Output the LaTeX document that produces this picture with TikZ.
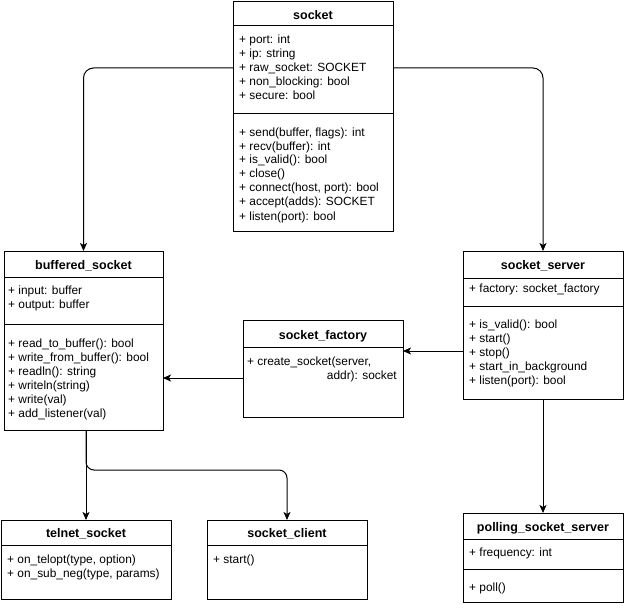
\documentclass[tikz,border=0pt]{standalone}
\usepackage{fontspec}
\setmainfont{Liberation Sans}
\usetikzlibrary{arrows.meta}
\tikzset{
  umlbox/.style={draw=black, line width=1pt, inner sep=0pt, outer sep=0pt, anchor=north west, fill=white},
  sepline/.style={draw=black, line width=1pt},
  ttl/.style={font=\fontsize{12.5}{14}\selectfont\bfseries, anchor=base, inner sep=0pt},
  txt/.style={font=\fontsize{11.9}{14}\selectfont, anchor=base west, inner sep=0pt},
  conn/.style={draw=black, line width=1pt, -{Stealth[length=8pt,width=7pt,inset=2pt]}}
}
\begin{document}
\begin{tikzpicture}[x=1pt,y=-1pt]
\useasboundingbox (0,0) rectangle (625,610);

% ---------- socket ----------
\node[umlbox, minimum width=160pt, minimum height=229pt] (socket) at (233,2) {};
\draw[sepline] (233,26) -- (393,26);
\draw[sepline] (233,114) -- (393,114);
\node[ttl] (socket-t) at (313,19.5) {socket};
\foreach \s [count=\i from 0] in {{+ port: int},{+ ip: string},{+ raw\_socket: SOCKET},{+ non\_blocking: bool},{+ secure: bool}}
  \node[txt] (socket-a\i) at (239,44+14*\i) {\s};
\foreach \s [count=\i from 0] in {{+ send(buffer, flags): int},{+ recv(buffer): int},{+ is\_valid(): bool},{+ close()},{+ connect(host, port): bool},{+ accept(adds): SOCKET},{+ listen(port): bool}}
  \node[txt] (socket-m\i) at (239,136+14*\i) {\s};

% ---------- buffered_socket ----------
\node[umlbox, minimum width=159pt, minimum height=179pt] (buffered) at (4,251) {};
\draw[sepline] (4,277) -- (163,277);
\draw[sepline] (4,324) -- (163,324);
\node[ttl] (buffered-t) at (83.5,269.5) {buffered\_socket};
\foreach \s [count=\i from 0] in {{+ input: buffer},{+ output: buffer}}
  \node[txt] (buffered-a\i) at (8,294+14*\i) {\s};
\foreach \s [count=\i from 0] in {{+ read\_to\_buffer(): bool},{+ write\_from\_buffer(): bool},{+ readln(): string},{+ writeln(string)},{+ write(val)},{+ add\_listener(val)}}
  \node[txt] (buffered-m\i) at (8,347+14*\i) {\s};

% ---------- socket_factory ----------
\node[umlbox, minimum width=160pt, minimum height=97pt] (factory) at (243,320) {};
\draw[sepline] (243,347) -- (403,347);
\node[ttl] (factory-t) at (323,339.5) {socket\_factory};
\node[txt] (factory-m0) at (247,365) {+ create\_socket(server,};
\node[txt, anchor=base east] (factory-m1) at (397,379) {addr): socket};

% ---------- socket_server ----------
\node[umlbox, minimum width=160pt, minimum height=148pt] (server) at (463,251) {};
\draw[sepline] (463,278) -- (623,278);
\draw[sepline] (463,306) -- (623,306);
\node[ttl] (server-t) at (543,269.5) {socket\_server};
\node[txt] (server-a0) at (469,292) {+ factory: socket\_factory};
\foreach \s [count=\i from 0] in {{+ is\_valid(): bool},{+ start()},{+ stop()},{+ start\_in\_background},{+ listen(port): bool}}
  \node[txt] (server-m\i) at (469,328+14*\i) {\s};

% ---------- telnet_socket ----------
\node[umlbox, minimum width=170pt, minimum height=79pt] (telnet) at (1,520) {};
\draw[sepline] (1,545) -- (171,545);
\node[ttl] (telnet-t) at (86,537.5) {telnet\_socket};
\foreach \s [count=\i from 0] in {{+ on\_telopt(type, option)},{+ on\_sub\_neg(type, params)}}
  \node[txt] (telnet-m\i) at (7,563+14*\i) {\s};

% ---------- socket_client ----------
\node[umlbox, minimum width=160pt, minimum height=79pt] (client) at (207,520) {};
\draw[sepline] (207,545) -- (367,545);
\node[ttl] (client-t) at (287,537.5) {socket\_client};
\node[txt] (client-m0) at (213,563) {+ start()};

% ---------- polling_socket_server ----------
\node[umlbox, minimum width=160pt, minimum height=89pt] (polling) at (463,513) {};
\draw[sepline] (463,539) -- (623,539);
\draw[sepline] (463,569) -- (623,569);
\node[ttl] (polling-t) at (543,531.5) {polling\_socket\_server};
\node[txt] (polling-a0) at (469,556) {+ frequency: int};
\node[txt] (polling-m0) at (469,591) {+ poll()};

% ---------- connectors ----------
\coordinate (yA) at (0,68);
\coordinate (yB) at (0,351);
\coordinate (yC) at (0,378);
\coordinate (yD) at (0,470);

\draw[conn, rounded corners=10pt] (socket.west |- yA) -| (buffered.north);
\draw[conn, rounded corners=10pt] (socket.east |- yA) -| (server.north);
\draw[conn] (server.west |- yB) -- (factory.east |- yB);
\draw[conn] (factory.west |- yC) -- (buffered.east |- yC);
\draw[conn] (server.south) -- (polling.north);
\draw[conn] (buffered.south -| telnet.north) -- (telnet.north);
\draw[conn, rounded corners=8pt] (buffered.south -| telnet.north) |- (client.north |- yD) -- (client.north);
\end{tikzpicture}
\end{document}
